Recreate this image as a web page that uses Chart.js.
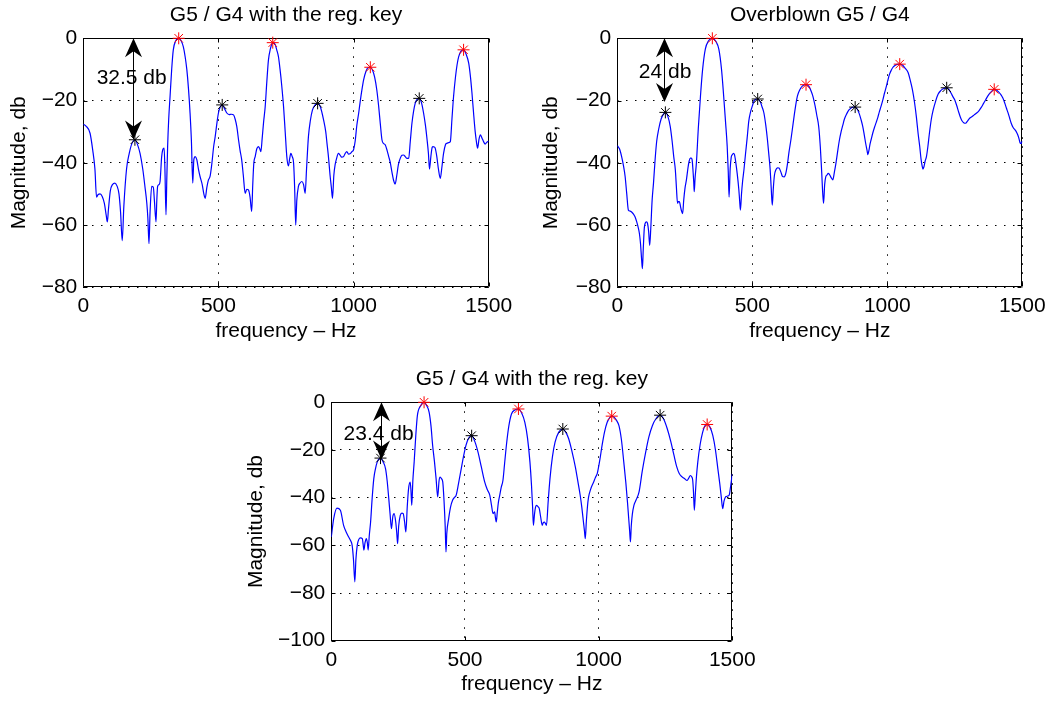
<!DOCTYPE html>
<html><head><meta charset="utf-8">
<script src="https://cdn.jsdelivr.net/npm/chart.js@4.4.1/dist/chart.umd.min.js"></script>
<style>
html,body{margin:0;padding:0;background:#fff;}
body{width:1052px;height:701px;position:relative;overflow:hidden;}
canvas{position:absolute;}
</style></head><body>
<canvas id="c1" width="520" height="350" style="left:0px;top:0px"></canvas>
<canvas id="c2" width="518" height="350" style="left:534px;top:0px"></canvas>
<canvas id="c3" width="520" height="346" style="left:240px;top:355px"></canvas>
<script>
// ---------- text ----------
const titles = ['G5 / G4 with the reg. key', 'Overblown G5 / G4', 'G5 / G4 with the reg. key'];
const xAxisTitle = 'frequency \u2013 Hz';
const yAxisTitle = 'Magnitude, db';
const xTicks = [0, 500, 1000, 1500];
const yTicksTop = [0, -20, -40, -60, -80];
const yTicksBottom = [0, -20, -40, -60, -80, -100];

// ---------- plot 1 : spectrum ----------
const freq1 = [0,10,25,35,43,49,55,62,70,78,
85,89,93,100,108,117,125,132,138,144,
150,160,170,179,191,200,210,220,228,235,
239,243,247,253,259,263,269,272,275,280,
284,290,294,299,302,306,309,312,316,321,
327,333,342,353,362,370,377,383,389,395,
400,405,409,414,420,426,432,440,446,451,
457,463,469,476,482,488,494,500,507,514,
522,531,540,548,556,562,568,575,580,586,
592,599,605,611,617,623,627,631,636,642,
648,653,657,662,667,673,679,685,692,701,
710,716,722,728,734,741,747,753,759,763,
768,773,778,782,786,790,796,802,809,815,
821,826,833,840,848,857,867,877,889,897,
902,907,913,918,922,927,932,936,944,950,
956,963,969,975,981,988,994,1000,1006,1012,
1019,1025,1031,1037,1046,1054,1062,1070,1078,1086,
1093,1099,1105,1111,1117,1124,1130,1136,1142,1148,
1154,1160,1166,1173,1179,1185,1191,1198,1204,1210,
1216,1222,1228,1235,1243,1251,1259,1266,1272,1277,
1281,1286,1291,1294,1298,1302,1308,1314,1321,1326,
1333,1340,1346,1352,1358,1364,1370,1377,1383,1389,
1397,1407,1416,1426,1432,1438,1444,1450,1455,1459,
1464,1469,1475,1481,1487,1492,1500];
const mag1 = [-27.6,-28.2,-30.5,-36,-42,-51,-50.2,-50,-50.8,-53,
-57,-59,-55,-49,-47,-46.5,-47.5,-50,-56,-65,
-54,-42,-37,-34,-32.6,-34,-37,-42,-47.6,-53,
-58,-66,-56,-47.6,-47.8,-52,-59,-52,-47.6,-47,
-46,-38,-35.8,-35.3,-42,-56.7,-45,-34.8,-26,-18.7,
-10,-3.7,-0.8,0,-0.8,-2.7,-6,-10,-16,-24,
-33,-46.5,-39,-38,-39,-42,-44.4,-47,-50,-51.4,
-48,-45.5,-44.4,-40,-35,-31.6,-27.5,-24,-22,-21.4,
-22.5,-24,-24.5,-24.4,-24.6,-26,-28.4,-33,-36,-39,
-44,-49.8,-48.5,-48.7,-51,-55.6,-47,-40,-38,-35.5,
-34.8,-35.5,-36.4,-32,-27,-22,-14,-7,-3.5,-1.4,
-2,-3.8,-5.9,-10,-15,-22,-30,-38,-41,-39,
-37,-38,-40,-48,-60,-52,-47.6,-46.5,-46,-47,
-49.8,-42,-31.6,-26.5,-23,-21.5,-20.9,-22,-26.2,-30,
-34,-38,-44,-48,-51.4,-44,-40.5,-39,-37,-37.5,
-38.2,-38,-37,-36.4,-37.2,-37,-36.4,-35.8,-33,-28,
-24,-20,-16.5,-13.4,-10.6,-9.4,-9.3,-10.2,-12.5,-16.6,
-22,-27.5,-32.6,-33.8,-34.2,-36,-38,-40,-43,-45.6,
-46.8,-44,-40.5,-38.5,-37.6,-37.5,-38,-38.6,-38.5,-33,
-27.3,-23.5,-20.9,-19.6,-19.3,-20.6,-24,-28,-32.6,-37,
-42,-38,-35,-34.8,-34.9,-35.3,-38,-42,-45,-42,
-37,-34.2,-33.7,-33.5,-33.2,-26,-18.7,-12.5,-8.5,-5.9,
-4.2,-3.7,-5,-8,-12,-17.5,-24,-30,-33.5,-35.3,
-32.5,-31,-32,-33.2,-34,-33.5,-33];
const redF1 = [353, 701, 1062, 1407];
const redM1 = [0, -1.4, -9.3, -3.7];
const blackF1 = [191, 514, 867, 1243];
const blackM1 = [-32.6, -21.4, -20.9, -19.3];

// ---------- plot 2 : spectrum ----------
const freq2 = [0,8,16,23,29,35,41,47,53,60,
66,72,78,82,86,90,93,96,100,103,
108,112,116,120,124,129,134,140,146,153,
162,170,178,187,196,203,209,215,219,223,
226,230,234,238,242,246,251,256,262,266,
270,274,277,280,283,285,288,293,300,308,
316,326,338,352,365,376,386,394,401,407,
411,414,418,422,426,430,434,439,444,450,
453,456,460,464,469,475,481,487,494,500,
506,513,520,530,536,543,550,556,562,566,
570,574,578,582,587,593,599,606,612,618,
624,630,636,643,651,659,667,676,686,699,
711,718,725,732,739,746,752,757,761,764,
768,772,777,781,785,791,798,804,810,816,
822,829,835,841,850,858,866,873,881,889,
896,903,909,915,920,925,928,932,936,940,
946,953,959,965,971,977,984,990,996,1002,
1008,1015,1021,1027,1036,1046,1056,1066,1077,1085,
1093,1101,1108,1114,1120,1125,1129,1132,1136,1140,
1145,1150,1156,1163,1170,1178,1188,1198,1208,1214,
1220,1228,1236,1244,1250,1257,1264,1270,1276,1283,
1290,1297,1305,1313,1322,1331,1340,1348,1356,1364,
1372,1380,1388,1396,1404,1412,1420,1428,1435,1441,
1447,1453,1459,1465,1471,1477,1483,1488,1492,1496,1500];
const mag2 = [-34.5,-35.5,-38,-41,-44.4,-50,-55.2,-55.5,-55.8,-56.5,
-57.4,-59,-61,-62.8,-66,-71,-74,-68,-61,-59.5,
-59,-59.5,-62,-66.5,-61,-52,-46.6,-39,-33,-29.3,
-26,-24.5,-23.8,-25,-28.3,-33,-38,-42.3,-48,-53,
-52.5,-52.5,-54,-55.5,-56.3,-52,-48,-45.5,-41.5,-39.5,
-38.5,-38.5,-39,-42,-46,-49.3,-45,-40,-29,-18.6,
-10,-3.5,-0.8,0,-1,-3.5,-10,-18.6,-27,-34.7,
-43,-51,-42,-38.2,-37.4,-37,-37.4,-40,-43.4,-48.5,
-52,-55.2,-50,-46,-42.3,-37,-32,-26.6,-23.5,-21.8,
-20.2,-19.6,-19.5,-20.5,-22,-24,-28,-32.5,-38,-42,
-48,-53.6,-48,-44,-42.3,-41.6,-41.7,-43,-44.4,-44.5,
-43.4,-40.5,-36.5,-32.6,-27.5,-22.5,-18.6,-16.5,-15.3,-14.9,
-15.6,-17,-18.8,-21.5,-24.8,-28.4,-35,-43,-50,-53,
-47,-44.5,-43.9,-43.4,-43.6,-44.6,-45.5,-43,-40,-36.4,
-33,-30,-28,-26,-24.2,-23,-22.4,-22.1,-22.1,-22.8,
-24.2,-26.2,-28.3,-31.2,-33.8,-36,-37.4,-36,-34,-32.6,
-30.5,-28.5,-27,-25.4,-23.5,-21.8,-19.6,-17.5,-15.6,-13.5,
-11.6,-10.2,-9.3,-8.8,-8.4,-8.3,-8.6,-9.6,-11,-13.5,
-16.5,-20.7,-25.5,-30.5,-34.7,-38.8,-41,-42,-41.2,-39.5,
-38,-35,-30.5,-26,-23,-20.5,-18,-16.8,-16.2,-16,
-15.9,-16.4,-17.6,-18.9,-19.8,-21.6,-23.6,-25.2,-26.4,-27.1,
-27.3,-26.6,-25.7,-25.2,-24.6,-24,-23.2,-22.2,-21,-19.8,
-18.6,-17.6,-16.9,-16.4,-16.6,-17.2,-18,-19.2,-20.8,-22.4,
-23.9,-25.6,-27.3,-28.5,-29.2,-29.9,-31,-32.3,-33.6,-33.8,-33];
const redF2 = [352, 699, 1046, 1396];
const redM2 = [0, -14.9, -8.3, -16.4];
const blackF2 = [178, 520, 881, 1220];
const blackM2 = [-23.8, -19.5, -22.1, -15.9];

// ---------- plot 3 : spectrum ----------
const freq3 = [0,9,21,34,46,56,65,72,78,83,
88,92,97,103,109,116,119,122,126,131,
135,138,142,147,153,159,165,172,184,194,
203,209,215,220,225,230,235,241,245,248,
252,258,264,269,274,279,284,289,295,298,
301,305,310,316,322,334,347,356,366,373,
379,386,392,398,403,407,412,417,422,426,
429,432,439,446,454,460,467,476,486,495,
504,514,525,537,549,561,574,583,593,599,
605,608,611,614,617,621,625,630,636,642,
648,655,664,674,687,700,712,724,734,743,
749,753,756,760,764,768,773,778,783,789,
793,797,801,805,811,818,827,837,851,866,
877,888,900,913,922,931,937,943,947,950,
954,958,962,970,981,988,995,1004,1013,1022,
1032,1041,1049,1058,1067,1076,1085,1094,1102,1108,
1112,1116,1119,1122,1126,1132,1140,1151,1163,1176,
1188,1201,1215,1230,1244,1257,1270,1282,1292,1302,
1311,1321,1331,1337,1343,1348,1352,1355,1358,1362,
1366,1371,1380,1389,1397,1406,1416,1427,1437,1446,
1453,1459,1464,1469,1474,1478,1483,1488,1494,1500];
const mag3 = [-56.5,-48.8,-44.4,-45.3,-51.6,-54.5,-56.5,-58,-60,-66,
-75.3,-66,-60,-57.5,-56.9,-57.2,-59.5,-62,-59,-57.2,
-59,-62,-56,-50.2,-40,-32,-28,-25,-23.4,-25,
-27.9,-33,-40.4,-47,-53,-48,-46.7,-50.2,-55,-59.3,
-52,-47.4,-46.5,-46.7,-50,-54.4,-44,-36.3,-33.5,-37,
-43.2,-33,-25,-14,-5.6,-1.5,0,-1.2,-4.2,-10,
-18,-25,-32,-39.7,-33,-31.4,-32,-33.5,-42,-52,
-62.8,-55,-48.8,-44,-41,-40,-39,-34,-27.9,-22.5,
-18,-15,-14,-16.5,-21,-27,-33.5,-36.5,-39,-43,
-46.7,-46.3,-46,-48.5,-50.2,-46,-42,-39,-35.5,-32.8,
-26,-18,-10,-4.9,-3.2,-2.8,-4.5,-8.4,-15,-25,
-35,-44,-51.6,-47,-44,-43.2,-43.8,-44.6,-48,-51.6,
-50.5,-50.2,-50.8,-51.6,-42,-32,-23,-16.7,-12.5,-11.2,
-12.5,-15.3,-20.5,-27.2,-33,-39,-44,-50,-54,-57.2,
-50,-44,-40,-36.5,-33.5,-31.5,-29.8,-24.5,-18,-12.5,
-8.4,-6.5,-5.8,-6.2,-7.6,-9.8,-15.5,-25,-34,-42,
-48,-54,-58.6,-52,-47,-43.2,-41,-37.7,-29,-20.9,
-14.5,-9.8,-6.8,-5.4,-7.2,-11.2,-16.5,-22.3,-27,-30,
-31.2,-32,-32.8,-31.8,-30.7,-31.2,-32.8,-38,-45.3,-38,
-31,-25,-17.5,-12.6,-10,-9.3,-10.3,-13.9,-20,-27.9,
-34,-40,-44.6,-41.5,-39.8,-39.5,-39.3,-39,-35,-30];
const redF3 = [347, 700, 1049, 1406];
const redM3 = [0, -2.8, -5.8, -9.3];
const blackF3 = [184, 525, 866, 1230];
const blackM3 = [-23.4, -14, -11.2, -5.4];

// ---------- double-arrow annotations (one per plot) ----------
const arrowFreq = [185, 172, 187];
const arrowTopDb = [0, 0, 0];
const arrowBottomDb = [-32.5, -20.5, -24];
const arrowLabels = ['32.5 db', '24 db', '23.4 db'];
const arrowLabelFreq = [179, 177, 177];
const arrowLabelDb = [-12.8, -11, -13.2];

// ---------- drawing ----------
const FONT = '"Liberation Sans", Arial, Helvetica, sans-serif';
Chart.defaults.font.family = FONT;
Chart.defaults.font.size = 21;
Chart.defaults.color = '#000';

const fmt = v => (v < 0 ? '\u2212' + Math.abs(v) : String(v));
const crisp = v => Math.round(v) + 0.5;

const framePlugin = {
  id: 'frame',
  beforeDatasetsDraw(chart) {
    const {ctx, chartArea: ca, scales: {x, y}} = chart;
    const L = crisp(ca.left), R = crisp(ca.right - 1), T = crisp(ca.top), B = crisp(ca.bottom - 1);
    ctx.save();
    ctx.strokeStyle = '#000';
    ctx.lineWidth = 1;
    ctx.setLineDash([]);
    ctx.beginPath();
    ctx.rect(L, T, R - L, B - T);
    const tl = 4;
    x.ticks.forEach(t => {
      const p = crisp(x.getPixelForValue(t.value));
      ctx.moveTo(p, B); ctx.lineTo(p, B - tl);
      ctx.moveTo(p, T); ctx.lineTo(p, T + tl);
    });
    y.ticks.forEach(t => {
      const p = crisp(y.getPixelForValue(t.value));
      ctx.moveTo(L, p); ctx.lineTo(L + tl, p);
      ctx.moveTo(R, p); ctx.lineTo(R - tl, p);
    });
    ctx.stroke();
    ctx.restore();
  }
};

function arrowHead(ctx, px, tipY, dir) {
  const len = 19, half = 8.5, back = 6;
  ctx.beginPath();
  ctx.moveTo(px, tipY);
  ctx.lineTo(px - half, tipY + dir * len);
  ctx.lineTo(px, tipY + dir * (len - back));
  ctx.lineTo(px + half, tipY + dir * len);
  ctx.closePath();
  ctx.fill();
}

const dblArrowPlugin = {
  id: 'dblArrow',
  afterDatasetsDraw(chart, args, o) {
    if (!o || o.text === undefined) return;
    const {ctx, scales: {x, y}} = chart;
    const px = Math.round(x.getPixelForValue(o.x)) + 0.5;
    const pt = y.getPixelForValue(o.top);
    const pb = y.getPixelForValue(o.bottom);
    ctx.save();
    ctx.fillStyle = '#000';
    ctx.strokeStyle = '#000';
    ctx.lineWidth = 1;
    ctx.beginPath();
    ctx.moveTo(px, pt + 8);
    ctx.lineTo(px, pb - 8);
    ctx.stroke();
    arrowHead(ctx, px, pt, 1);
    arrowHead(ctx, px, pb, -1);
    ctx.font = '21px ' + FONT;
    ctx.textAlign = 'center';
    ctx.textBaseline = 'middle';
    ctx.fillText(o.text, x.getPixelForValue(o.tx), y.getPixelForValue(o.ty));
    ctx.restore();
  }
};

function pts(fs, ms) { return fs.map((f, i) => ({x: f, y: ms[i]})); }

function makeChart(id, c) {
  const gridOpts = {color: '#000', lineWidth: 1, drawTicks: false};
  const borderOpts = {display: false, dash: [1.5, 7.5]};
  return new Chart(document.getElementById(id), {
    type: 'line',
    data: {
      datasets: [
        {data: pts(c.redF, c.redM), showLine: false, pointStyle: 'star', pointRadius: 6,
         pointBorderColor: '#ff0000', borderColor: '#ff0000', pointBorderWidth: 1, clip: false, order: 0},
        {data: pts(c.blackF, c.blackM), showLine: false, pointStyle: 'star', pointRadius: 6,
         pointBorderColor: '#000000', borderColor: '#000000', pointBorderWidth: 1, clip: false, order: 1},
        {data: pts(c.freq, c.mag), borderColor: '#0000ff', borderWidth: 1.2, pointRadius: 0,
         fill: false, cubicInterpolationMode: 'monotone', order: 2}
      ]
    },
    options: {
      responsive: false,
      animation: false,
      events: [],
      devicePixelRatio: 1,
      layout: {padding: {left: 0, top: 0, right: c.padR, bottom: 0}},
      plugins: {
        legend: {display: false},
        tooltip: {enabled: false},
        title: {display: true, text: c.title, fullSize: false, color: '#000',
                font: {size: 21, weight: 'normal', lineHeight: 1.2},
                padding: {top: c.tTop, bottom: c.tBot}},
        dblArrow: c.arrow
      },
      scales: {
        x: {
          type: 'linear', min: xTicks[0], max: xTicks[xTicks.length - 1],
          afterBuildTicks: s => { s.ticks = xTicks.map(v => ({value: v})); },
          ticks: {padding: 6.5, maxRotation: 0, autoSkip: false, callback: fmt,
                  font: {size: 21, lineHeight: 1.2}},
          grid: gridOpts, border: borderOpts,
          title: {display: true, text: xAxisTitle, font: {size: 21, lineHeight: 1.2},
                  padding: {top: 0, bottom: c.xtPad}},
          afterFit: s => { s.height = c.xH; s.paddingLeft = 0; s.paddingRight = 0; }
        },
        y: {
          type: 'linear', min: c.yTicks[c.yTicks.length - 1], max: c.yTicks[0],
          afterBuildTicks: s => { s.ticks = c.yTicks.slice().reverse().map(v => ({value: v})); },
          ticks: {padding: 6, autoSkip: false, callback: fmt, font: {size: 21, lineHeight: 1.2}},
          grid: gridOpts, border: borderOpts,
          title: {display: true, text: yAxisTitle, font: {size: 21, lineHeight: 1.2},
                  padding: {top: c.ytPad, bottom: 0}},
          afterFit: s => { s.width = c.yW; s.paddingTop = 0; s.paddingBottom = 0; }
        }
      }
    },
    plugins: [framePlugin, dblArrowPlugin]
  });
}

function arrowCfg(i) {
  return {x: arrowFreq[i], top: arrowTopDb[i], bottom: arrowBottomDb[i],
          text: arrowLabels[i], tx: arrowLabelFreq[i], ty: arrowLabelDb[i]};
}

makeChart('c1', {title: titles[0], freq: freq1, mag: mag1, redF: redF1, redM: redM1,
  blackF: blackF1, blackM: blackM1, yTicks: yTicksTop, arrow: arrowCfg(0),
  padR: 31.3, tTop: 2.4, tBot: 10.7, yW: 83.3, ytPad: 6.9, xH: 62.7, xtPad: 6.1});
makeChart('c2', {title: titles[1], freq: freq2, mag: mag2, redF: redF2, redM: redM2,
  blackF: blackF2, blackM: blackM2, yTicks: yTicksTop, arrow: arrowCfg(1),
  padR: 29.7, tTop: 2.4, tBot: 10.7, yW: 83.3, ytPad: 5.1, xH: 62.7, xtPad: 6.1});
makeChart('c3', {title: titles[2], freq: freq3, mag: mag3, redF: redF3, redM: redM3,
  blackF: blackF3, blackM: blackM3, yTicks: yTicksBottom, arrow: arrowCfg(2),
  padR: 27.7, tTop: 11.2, tBot: 10.9, yW: 91.3, ytPad: 3.9, xH: 60.3, xtPad: 3.7});
</script>
</body></html>
